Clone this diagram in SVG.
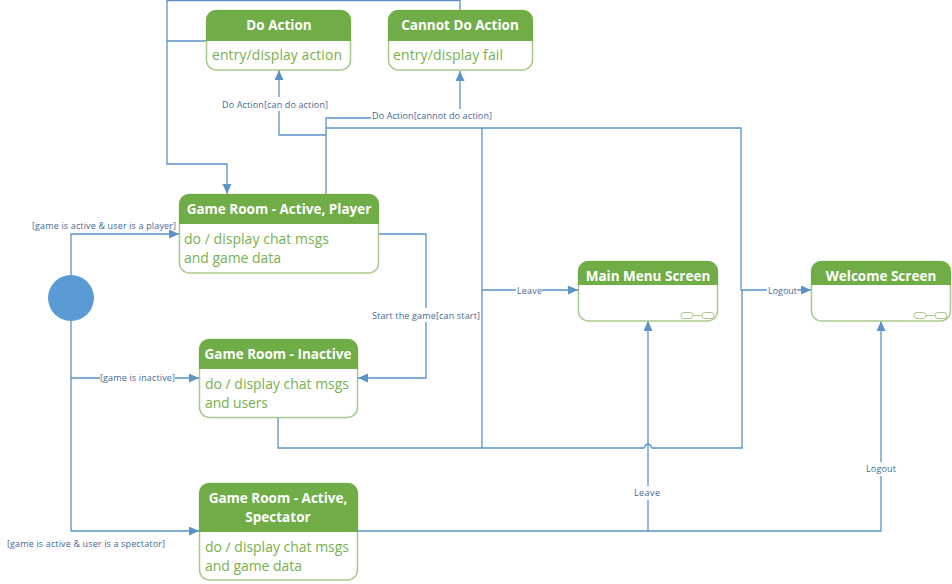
<svg xmlns="http://www.w3.org/2000/svg" width="952" height="584" viewBox="0 0 952 584">
<style>
text{font-family:"Open Sans","Noto Sans","Liberation Sans",sans-serif}
.body{fill:#fff;stroke:#a9c98c;stroke-width:1.5}
.head{fill:#70ad47}
.t{fill:#fff;font-weight:700;font-size:13.5px;text-anchor:middle}
.b{fill:#78b150;font-size:14px}
.c{fill:none;stroke:#5b93c7;stroke-width:1.3}
.l{fill:#3f6a96;font-size:9px}
.bg{fill:#fff}
.lnk{fill:none;stroke:#a9c98c;stroke-width:1}
</style>
<defs>
<marker id="a" markerUnits="userSpaceOnUse" markerWidth="11" markerHeight="10" refX="10" refY="4.5" orient="auto"><path d="M0 0L10 4.5L0 9z" fill="#5b93c7"/></marker>
</defs>
<g id="connectors">
<path class="c" d="M460 10V0.7H167V164H227V194" marker-end="url(#a)"/>
<path class="c" d="M206 41H167"/>
<path class="c" d="M326 194V135H279V70" marker-end="url(#a)"/>
<path class="c" d="M326 135V118H460V71" marker-end="url(#a)"/>
<path class="c" d="M326 128H741V290H811" marker-end="url(#a)"/>
<path class="c" d="M482 128V448"/>
<path class="c" d="M482 290H578" marker-end="url(#a)"/>
<path class="c" d="M278 417V448H644Q648 440 652 448H742V290"/>
<path class="c" d="M357 531H881V321" marker-end="url(#a)"/>
<path class="c" d="M648 531V321" marker-end="url(#a)"/>
<path class="c" d="M71 275V234H179" marker-end="url(#a)"/>
<path class="c" d="M71 321V531H199" marker-end="url(#a)"/>
<path class="c" d="M71 378H199" marker-end="url(#a)"/>
<path class="c" d="M378 234H426V378H358" marker-end="url(#a)"/>
</g>
<g id="labels">
<rect class="bg" x="221" y="97" width="107" height="14"/><text class="l" x="222" y="108" textLength="106">Do Action[can do action]</text>
<rect class="bg" x="371" y="109" width="121" height="14"/><text class="l" x="372" y="119" textLength="120">Do Action[cannot do action]</text>
<rect class="bg" x="372" y="308" width="108" height="14"/><text class="l" x="372" y="319" textLength="108">Start the game[can start]</text>
<rect class="bg" x="516" y="284" width="26" height="13"/><text class="l" x="517" y="294" textLength="25">Leave</text>
<rect class="bg" x="767" y="284" width="30" height="13"/><text class="l" x="768" y="294" textLength="29">Logout</text>
<rect class="bg" x="634" y="486" width="27" height="14"/><text class="l" x="634" y="496" textLength="26">Leave</text>
<rect class="bg" x="866" y="462" width="30" height="14"/><text class="l" x="866" y="472" textLength="30">Logout</text>
<text class="l" x="32" y="229" textLength="144">[game is active &amp; user is a player]</text>
<rect class="bg" x="100" y="371" width="75" height="14"/><text class="l" x="100" y="381" textLength="75">[game is inactive]</text>
<text class="l" x="7" y="547" textLength="158">[game is active &amp; user is a spectator]</text>
</g>
<g id="start"><circle cx="71" cy="298" r="23" fill="#5b9bd5"/></g>
<g id="do-action">
<rect class="body" x="206.5" y="10.500" width="144" height="59.500" rx="10"/>
<path class="head" d="M206 41V20a10 10 0 0 1 10-10H341a10 10 0 0 1 10 10V41z"/>
<text class="t" x="279" y="30">Do Action</text>
<text class="b" x="212" y="60" textLength="130">entry/display action</text>
</g>
<g id="cannot-do-action">
<rect class="body" x="388.500" y="10.500" width="144" height="59.500" rx="10"/>
<path class="head" d="M388 41V20a10 10 0 0 1 10-10H523a10 10 0 0 1 10 10V41z"/>
<text class="t" x="460" y="30">Cannot Do Action</text>
<text class="b" x="393" y="60" textLength="110">entry/display fail</text>
</g>
<g id="active-player">
<rect class="body" x="179.500" y="194.500" width="199" height="78.500" rx="10"/>
<path class="head" d="M179 224V204a10 10 0 0 1 10-10H369a10 10 0 0 1 10 10V224z"/>
<text class="t" x="279" y="214">Game Room - Active, Player</text>
<text class="b" x="184" y="244" textLength="145">do / display chat msgs</text>
<text class="b" x="184" y="263" textLength="97">and game data</text>
</g>
<g id="inactive">
<rect class="body" x="199.500" y="339.500" width="158" height="78" rx="10"/>
<path class="head" d="M199 369V349a10 10 0 0 1 10-10H348a10 10 0 0 1 10 10V369z"/>
<text class="t" x="278" y="359">Game Room - Inactive</text>
<text class="b" x="205" y="389" textLength="144">do / display chat msgs</text>
<text class="b" x="205" y="408" textLength="63">and users</text>
</g>
<g id="active-spectator">
<rect class="body" x="199.500" y="483.500" width="158" height="96.500" rx="10"/>
<path class="head" d="M199 532V493a10 10 0 0 1 10-10H348a10 10 0 0 1 10 10V532z"/>
<text class="t" x="278" y="503">Game Room - Active,</text>
<text class="t" x="278" y="522">Spectator</text>
<text class="b" x="205" y="552" textLength="144">do / display chat msgs</text>
<text class="b" x="205" y="571" textLength="97">and game data</text>
</g>
<g id="main-menu">
<rect class="body" x="578.500" y="261.500" width="139" height="59.500" rx="10"/>
<path class="head" d="M578 285V271a10 10 0 0 1 10-10H708a10 10 0 0 1 10 10V285z"/>
<text class="t" x="648" y="281">Main Menu Screen</text>
<rect class="lnk" x="681" y="312.500" width="12" height="6" rx="3"/><path class="lnk" d="M693 315.500H702"/><rect class="lnk" x="702" y="312.500" width="12" height="6" rx="3"/>
</g>
<g id="welcome">
<rect class="body" x="811.500" y="261.500" width="139" height="59.500" rx="10"/>
<path class="head" d="M811 285V271a10 10 0 0 1 10-10H941a10 10 0 0 1 10 10V285z"/>
<text class="t" x="881" y="281">Welcome Screen</text>
<rect class="lnk" x="914" y="312.500" width="12" height="6" rx="3"/><path class="lnk" d="M926 315.500H935"/><rect class="lnk" x="935" y="312.500" width="12" height="6" rx="3"/>
</g>
</svg>
